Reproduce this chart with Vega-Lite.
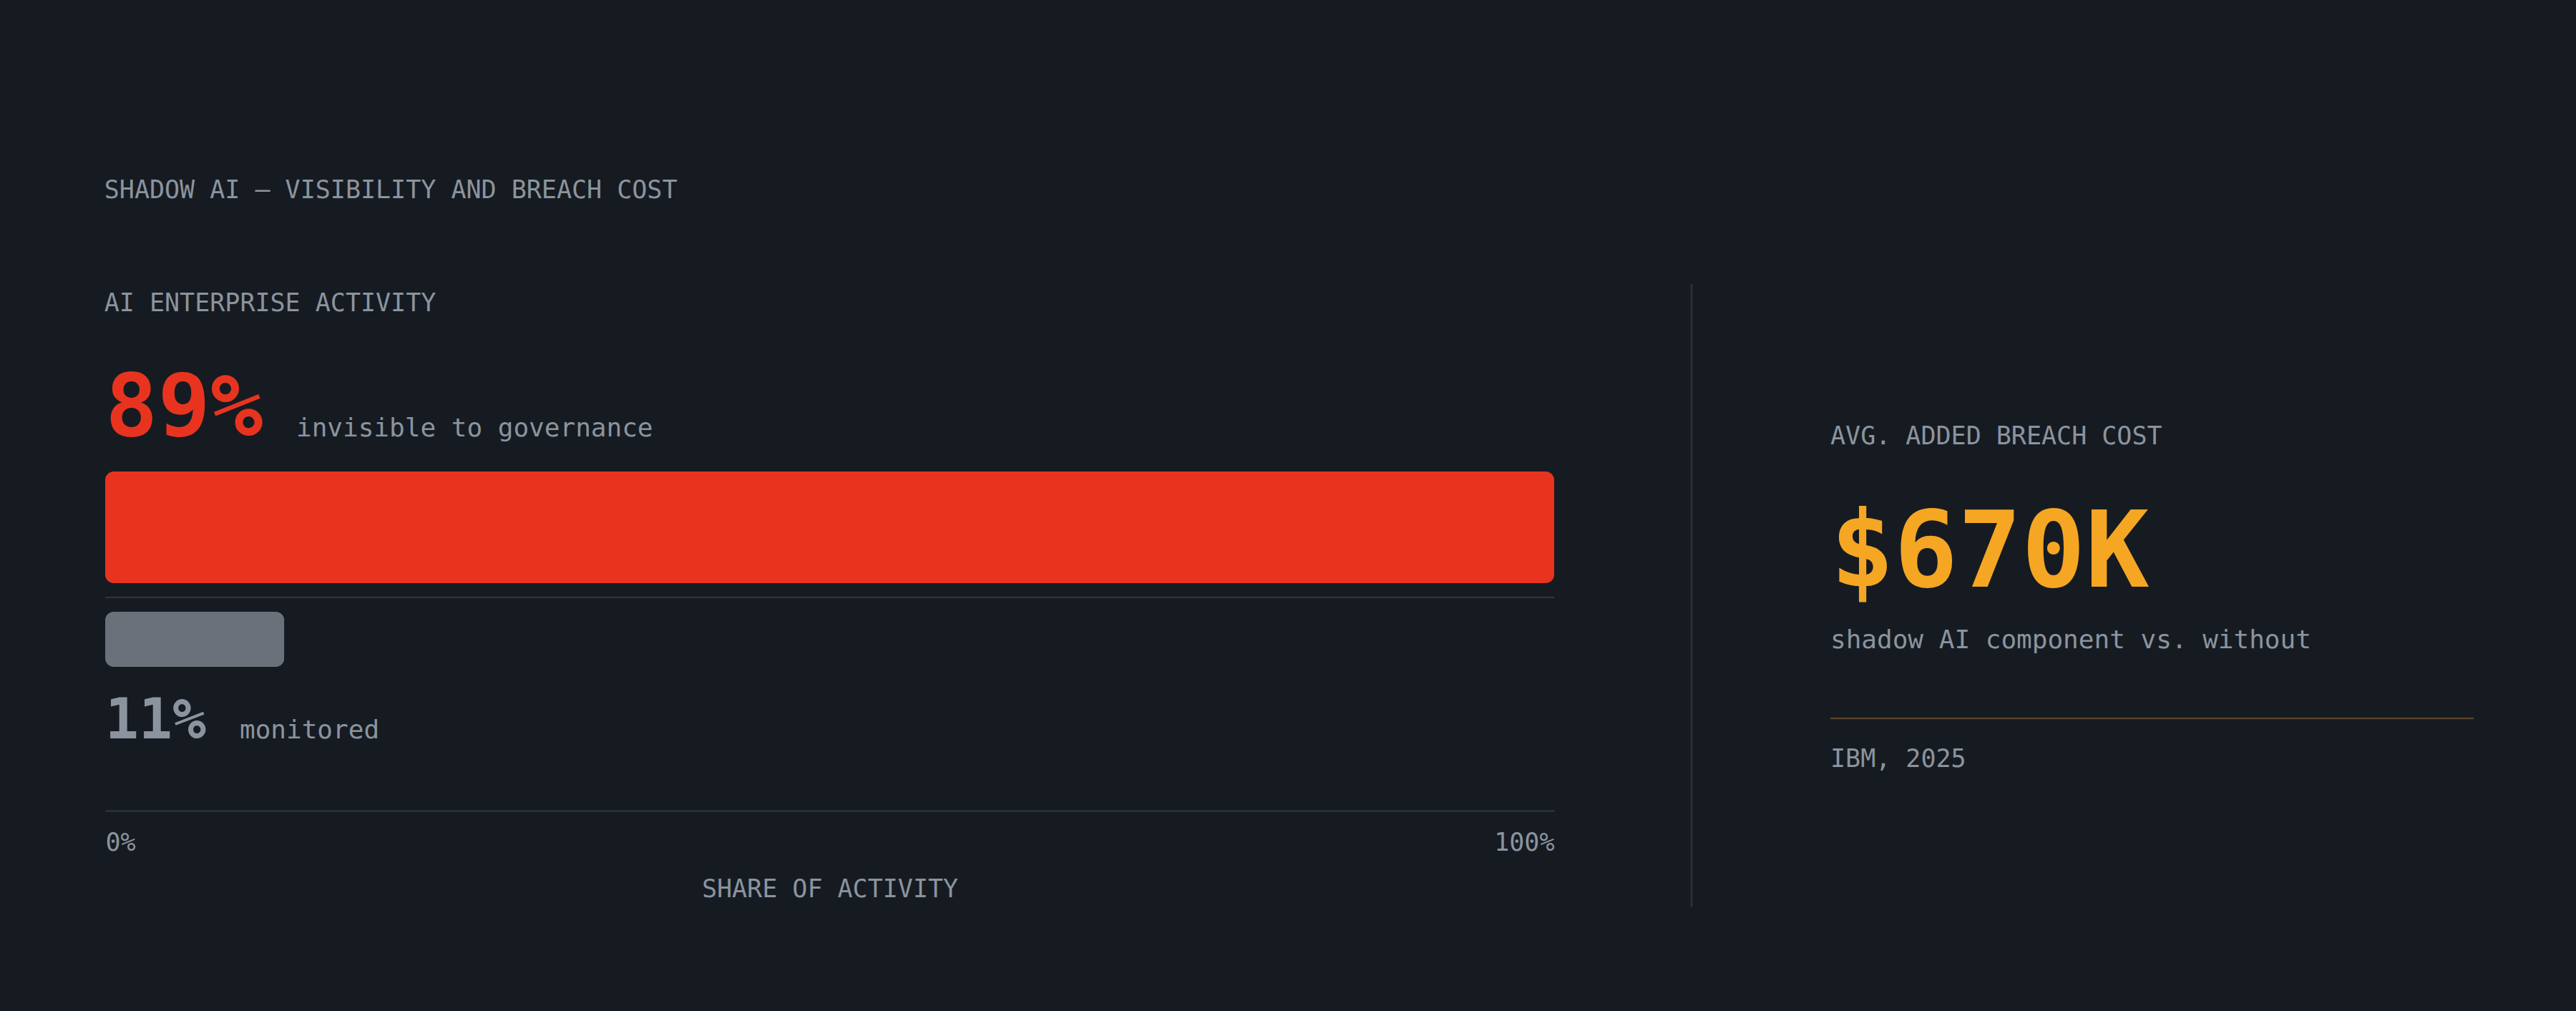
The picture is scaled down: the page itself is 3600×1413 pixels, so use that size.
{
  "$schema": "https://vega.github.io/schema/vega-lite/v6.json",
  "background": "#161b22",
  "padding": {"left": 145, "right": 145, "top": 248, "bottom": 147},
  "bounds": "flush",
  "spacing": 386,
  "title": {
    "text": "SHADOW AI — VISIBILITY AND BREACH COST",
    "offset": 112
  },
  "datasets": {
    "activity": [
      {"segment": "invisible to governance", "share": 0.89},
      {"segment": "monitored", "share": 0.11}
    ],
    "breach": [
      {
        "label": "AVG. ADDED BREACH COST",
        "value": "$670K",
        "note": "shadow AI component vs. without",
        "source": "IBM, 2025"
      }
    ]
  },
  "hconcat": [
    {
      "width": 2025,
      "height": 736,
      "title": {"text": "AI ENTERPRISE ACTIVITY", "offset": -45},
      "data": {"name": "activity"},
      "encoding": {
        "y": {
          "field": "segment",
          "type": "nominal",
          "scale": {
            "type": "point",
            "domain": ["invisible to governance", "monitored"],
            "range": [340, 496.5],
            "padding": 0
          },
          "axis": null
        }
      },
      "layer": [
        {
          "transform": [{"filter": "datum.segment == 'invisible to governance'"}],
          "mark": {"type": "bar", "height": 156, "cornerRadius": 12, "color": "#e8341f"},
          "encoding": {
            "x": {
              "field": "share",
              "type": "quantitative",
              "scale": {"domain": [0, 0.89], "nice": false},
              "axis": {
                "orient": "bottom",
                "values": [0, 0.89],
                "labelExpr": "datum.value == 0 ? '0%' : '100%'",
                "labelFlush": true,
                "labelOverlap": false,
                "grid": false,
                "ticks": false,
                "tickSize": 0,
                "domainColor": "#2d333b",
                "domainWidth": 2.5,
                "labelPadding": 27,
                "labelFontSize": 35,
                "labelColor": "#8b949e",
                "title": "SHARE OF ACTIVITY",
                "titleFontSize": 35,
                "titleFontWeight": "normal",
                "titleColor": "#8b949e",
                "titlePadding": 30
              }
            }
          }
        },
        {
          "transform": [{"filter": "datum.segment == 'monitored'"}],
          "mark": {"type": "bar", "height": 77, "cornerRadius": 12, "color": "#6b717b"},
          "encoding": {
            "x": {"field": "share", "type": "quantitative"}
          }
        },
        {
          "transform": [{"filter": "datum.segment == 'monitored'"}],
          "mark": {"type": "rule", "color": "#2d333b", "strokeWidth": 2.5, "yOffset": -58.5},
          "encoding": {}
        },
        {
          "transform": [{"filter": "datum.segment == 'invisible to governance'"}],
          "mark": {
            "type": "text",
            "align": "left",
            "baseline": "alphabetic",
            "fontSize": 122,
            "fontWeight": "bold",
            "color": "#e8341f",
            "yOffset": -128
          },
          "encoding": {
            "x": {"datum": 0, "type": "quantitative"},
            "text": {"field": "share", "type": "quantitative", "format": ".0%"}
          }
        },
        {
          "transform": [{"filter": "datum.segment == 'invisible to governance'"}],
          "mark": {
            "type": "text",
            "align": "left",
            "baseline": "alphabetic",
            "fontSize": 36,
            "color": "#8b949e",
            "xOffset": 267,
            "yOffset": -127
          },
          "encoding": {
            "x": {"datum": 0, "type": "quantitative"},
            "text": {"field": "segment"}
          }
        },
        {
          "transform": [{"filter": "datum.segment == 'monitored'"}],
          "mark": {
            "type": "text",
            "align": "left",
            "baseline": "alphabetic",
            "fontSize": 78,
            "fontWeight": "bold",
            "color": "#8b949e",
            "yOffset": 138.5
          },
          "encoding": {
            "x": {"datum": 0, "type": "quantitative"},
            "text": {"field": "share", "type": "quantitative", "format": ".0%"}
          }
        },
        {
          "transform": [{"filter": "datum.segment == 'monitored'"}],
          "mark": {
            "type": "text",
            "align": "left",
            "baseline": "alphabetic",
            "fontSize": 36,
            "color": "#8b949e",
            "xOffset": 188,
            "yOffset": 138.5
          },
          "encoding": {
            "x": {"datum": 0, "type": "quantitative"},
            "text": {"field": "segment"}
          }
        }
      ]
    },
    {
      "width": 899,
      "height": 871,
      "data": {"name": "breach"},
      "encoding": {
        "x": {"datum": 0, "type": "quantitative", "scale": {"domain": [0, 1]}, "axis": null}
      },
      "layer": [
        {
          "mark": {"type": "rule", "color": "#2d333b", "strokeWidth": 2.5, "xOffset": -194},
          "encoding": {}
        },
        {
          "mark": {
            "type": "text",
            "align": "left",
            "baseline": "alphabetic",
            "fontSize": 35,
            "color": "#8b949e"
          },
          "encoding": {
            "y": {
              "datum": "label",
              "type": "nominal",
              "scale": {
                "type": "point",
                "domain": ["label", "value", "note", "rule", "source"],
                "range": [224, 675],
                "padding": 0
              },
              "axis": null
            },
            "text": {"field": "label"}
          }
        },
        {
          "mark": {
            "type": "text",
            "align": "left",
            "baseline": "alphabetic",
            "fontSize": 148,
            "fontWeight": "bold",
            "color": "#f5a623",
            "yOffset": 86.25
          },
          "encoding": {
            "y": {"datum": "value", "type": "nominal", "axis": null},
            "text": {"field": "value"}
          }
        },
        {
          "mark": {
            "type": "text",
            "align": "left",
            "baseline": "alphabetic",
            "fontSize": 36,
            "color": "#8b949e",
            "yOffset": 59.5
          },
          "encoding": {
            "y": {"datum": "note", "type": "nominal", "axis": null},
            "text": {"field": "note"}
          }
        },
        {
          "mark": {
            "type": "rule",
            "color": "#f5a623",
            "opacity": 0.3,
            "strokeWidth": 2.5,
            "yOffset": 44.75
          },
          "encoding": {
            "x2": {"datum": 1},
            "y": {"datum": "rule", "type": "nominal", "axis": null}
          }
        },
        {
          "mark": {
            "type": "text",
            "align": "left",
            "baseline": "alphabetic",
            "fontSize": 35,
            "color": "#8b949e"
          },
          "encoding": {
            "y": {"datum": "source", "type": "nominal", "axis": null},
            "text": {"field": "source"}
          }
        }
      ]
    }
  ],
  "config": {
    "font": "DejaVu Sans Mono",
    "view": {"stroke": null},
    "title": {
      "font": "DejaVu Sans Mono",
      "fontSize": 35,
      "fontWeight": "normal",
      "color": "#8b949e",
      "anchor": "start"
    },
    "axis": {"labelFont": "DejaVu Sans Mono", "titleFont": "DejaVu Sans Mono"}
  }
}
